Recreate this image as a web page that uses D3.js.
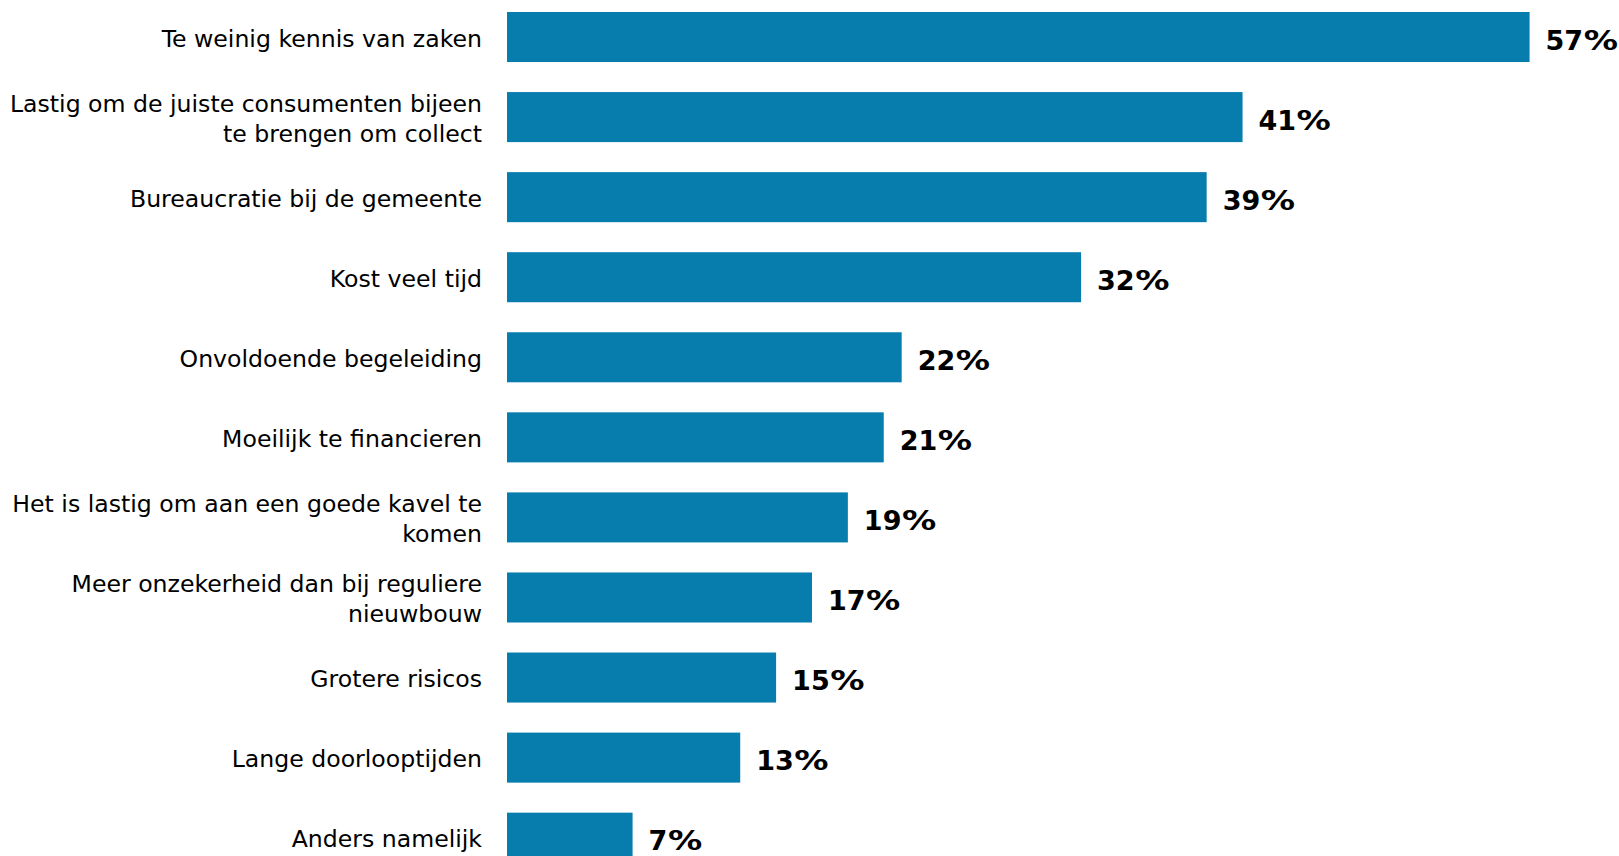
<!DOCTYPE html>
<html>
<head>
<meta charset="utf-8">
<script src="https://cdn.jsdelivr.net/npm/d3@7"></script>
<style>
  html, body { margin: 0; padding: 0; background: #ffffff; }
  svg { display: block; }
</style>
</head>
<body>
<svg id="chart" width="1619" height="856"></svg>
<script>
// Categories (line breaks as "\n") and percentage values
const categories = [
  "Te weinig kennis van zaken",
  "Lastig om de juiste consumenten bijeen\nte brengen om collect",
  "Bureaucratie bij de gemeente",
  "Kost veel tijd",
  "Onvoldoende begeleiding",
  "Moeilijk te financieren",
  "Het is lastig om aan een goede kavel te\nkomen",
  "Meer onzekerheid dan bij reguliere\nnieuwbouw",
  "Grotere risicos",
  "Lange doorlooptijden",
  "Anders namelijk"
];
const values = [57, 41, 39, 32, 22, 21, 19, 17, 15, 13, 7];

const width = 1619, height = 856;
const svg = d3.select("#chart");

const x = d3.scaleLinear().domain([0, 60]).range([507, 507 + 60 * 17.94]);
const y = d3.scaleBand()
  .domain(categories)
  .range([12, 862.7])
  .paddingInner(0.375)
  .paddingOuter(0);

const barColor = "#077dae";
const fontFamily = "'DejaVu Sans', Verdana, sans-serif";
const valueSize = 27;

// Bars
svg.append("g")
  .selectAll("rect")
  .data(values)
  .join("rect")
  .attr("x", x(0))
  .attr("y", (d, i) => y(categories[i]))
  .attr("width", d => x(d) - x(0))
  .attr("height", y.bandwidth())
  .attr("fill", barColor);

// Value labels: the number, then a wide percent sign
const valueGroups = svg.append("g")
  .selectAll("g")
  .data(values)
  .join("g")
  .attr("transform", (d, i) => `translate(${x(d) + 16},${y(categories[i]) + y.bandwidth() / 2 + 5})`);

valueGroups.each(function (d) {
  const g = d3.select(this);
  const num = g.append("text")
    .attr("dominant-baseline", "middle")
    .attr("font-family", fontFamily)
    .attr("font-size", valueSize + "px")
    .attr("font-weight", "bold")
    .attr("fill", "#000")
    .text(d);
  const w = num.node().getComputedTextLength();
  g.append("text")
    .attr("x", w + 0.5)
    .attr("dominant-baseline", "middle")
    .attr("font-family", fontFamily)
    .attr("font-size", valueSize + "px")
    .attr("font-weight", "bold")
    .attr("fill", "#000")
    .attr("textLength", valueSize * 1.27)
    .attr("lengthAdjust", "spacingAndGlyphs")
    .text("%");
});

// Category labels, right-aligned beside the bars
const lineGap = 30;
const labels = svg.append("g")
  .selectAll("text")
  .data(categories)
  .join("text")
  .attr("text-anchor", "end")
  .attr("font-family", fontFamily)
  .attr("font-size", "23.6px")
  .attr("fill", "#000");

labels.each(function (d) {
  const lines = d.split("\n");
  const cy = y(d) + y.bandwidth() / 2 + 1.5;
  const start = cy - (lines.length - 1) * lineGap / 2;
  d3.select(this).selectAll("tspan")
    .data(lines)
    .join("tspan")
    .attr("x", 482)
    .attr("y", (l, i) => start + i * lineGap)
    .attr("dy", "0.35em")
    .text(l => l);
});
</script>
</body>
</html>
